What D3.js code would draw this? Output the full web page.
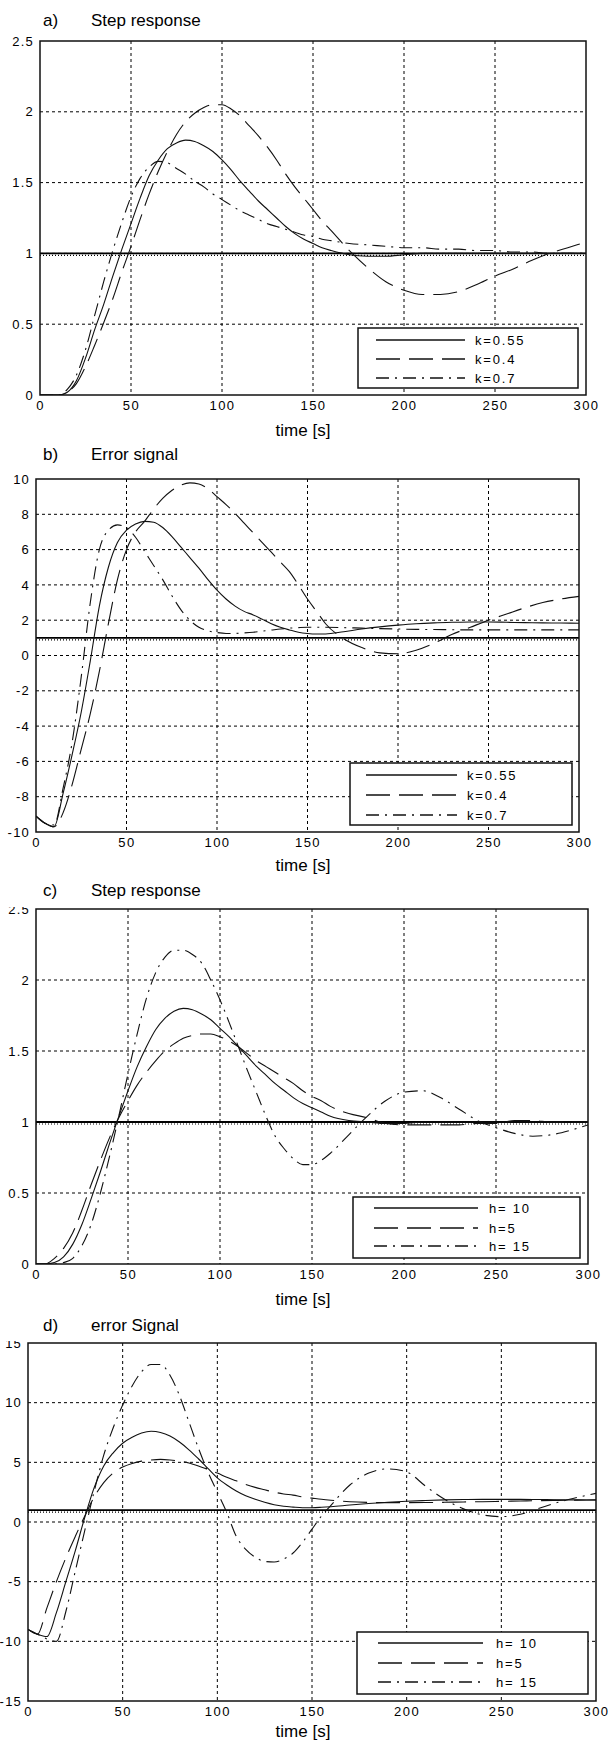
<!DOCTYPE html>
<html><head><meta charset="utf-8">
<script src="https://cdn.jsdelivr.net/npm/d3@7"></script>
<style>
html,body{margin:0;padding:0;background:#fff;}
svg{display:block;}
text{font-family:"Liberation Sans",Arial,Helvetica,sans-serif;fill:#000;}
</style></head><body>
<svg id="chart" width="608" height="1742"></svg>
<script>
// ---------- data ----------
const T = [0,5,10,15,20,25,30,35,40,45,50,55,60,65,70,75,80,85,90,95,100,105,110,115,120,125,130,135,140,145,150,155,160,170,180,190,200,210,220,230,240,250,260,270,280,290,300];

// a) Step response, gain k
const aK055 = [0,0,0,0.02,0.1,0.26,0.46,0.64,0.84,1.03,1.21,1.39,1.55,1.66,1.74,1.78,1.8,1.79,1.76,1.72,1.66,1.59,1.51,1.44,1.37,1.31,1.25,1.19,1.14,1.1,1.07,1.04,1.02,0.99,0.98,0.98,0.99,1,1,1,1,1,1,1,1,1,1];
const aK04  = [0,0,0,0.02,0.08,0.2,0.35,0.51,0.68,0.87,1.05,1.24,1.42,1.58,1.72,1.84,1.93,1.99,2.03,2.05,2.05,2.02,1.97,1.9,1.83,1.75,1.66,1.56,1.47,1.39,1.31,1.23,1.16,1.02,0.9,0.8,0.74,0.71,0.71,0.73,0.78,0.84,0.89,0.95,1.0,1.04,1.08];
const aK07  = [0,0,0,0.04,0.14,0.32,0.56,0.8,1.02,1.22,1.4,1.53,1.61,1.65,1.64,1.6,1.56,1.51,1.47,1.42,1.38,1.34,1.3,1.27,1.24,1.21,1.19,1.17,1.15,1.13,1.12,1.1,1.09,1.07,1.06,1.05,1.04,1.04,1.03,1.03,1.02,1.02,1.01,1.01,1.0,1.0,1.0];

// b) Error signal, gain k
const bK055 = [-9.1,-9.5,-9.7,-7.8,-5.6,-3.2,-0.3,2.8,5.0,6.4,7.1,7.45,7.6,7.55,7.25,6.75,6.15,5.55,4.95,4.3,3.7,3.2,2.8,2.5,2.3,2.05,1.8,1.6,1.45,1.32,1.25,1.22,1.22,1.35,1.5,1.62,1.72,1.8,1.85,1.88,1.9,1.9,1.88,1.86,1.85,1.84,1.83];
const bK04  = [-9.1,-9.5,-9.7,-8.9,-7.3,-5.3,-3.3,-0.9,1.8,4.3,6.0,7.0,7.6,8.3,8.9,9.35,9.65,9.78,9.72,9.45,9.0,8.55,8.05,7.5,6.95,6.4,5.85,5.3,4.75,4.0,3.2,2.5,1.8,0.95,0.45,0.15,0.1,0.3,0.7,1.2,1.6,2.0,2.35,2.7,3.0,3.2,3.35];
const bK07  = [-9.1,-9.5,-9.6,-7.5,-4.9,-1.2,3.0,6.0,7.1,7.4,7.25,6.7,5.9,5.1,4.3,3.4,2.6,2.0,1.6,1.4,1.3,1.25,1.25,1.28,1.32,1.38,1.44,1.5,1.55,1.58,1.6,1.6,1.6,1.58,1.55,1.52,1.5,1.48,1.47,1.46,1.45,1.45,1.45,1.45,1.45,1.45,1.45];

// c) Step response, horizon h
const cH10 = [0,0,0.01,0.05,0.14,0.28,0.46,0.65,0.85,1.04,1.22,1.39,1.53,1.65,1.73,1.78,1.8,1.79,1.76,1.72,1.66,1.6,1.53,1.46,1.39,1.33,1.27,1.22,1.17,1.13,1.1,1.07,1.04,1.01,1.0,0.99,0.99,1,1,1,1,1,1,1,1,1,1];
const cH5  = [0,0,0.04,0.11,0.22,0.38,0.56,0.73,0.89,1.03,1.15,1.26,1.35,1.43,1.5,1.55,1.59,1.61,1.62,1.62,1.6,1.57,1.53,1.48,1.43,1.39,1.35,1.31,1.27,1.22,1.18,1.15,1.11,1.06,1.03,0.99,0.98,0.98,0.98,0.98,0.99,0.99,1.01,1.01,1.0,1.0,1.0];
const cH15 = [0,0,0,0.01,0.04,0.13,0.28,0.5,0.76,1.04,1.34,1.62,1.87,2.05,2.16,2.21,2.21,2.18,2.12,2.0,1.86,1.7,1.53,1.36,1.2,1.04,0.9,0.81,0.74,0.7,0.7,0.73,0.78,0.91,1.04,1.15,1.21,1.22,1.17,1.09,1.01,0.96,0.92,0.9,0.91,0.94,0.98];

// d) error Signal, horizon h
const dH10 = [-9.0,-9.4,-9.6,-7.6,-5.0,-2.4,0.4,2.9,4.7,5.8,6.6,7.1,7.45,7.6,7.5,7.2,6.7,6.05,5.3,4.5,3.7,3.1,2.6,2.2,1.9,1.65,1.45,1.32,1.25,1.2,1.2,1.23,1.28,1.42,1.55,1.65,1.74,1.8,1.85,1.88,1.9,1.9,1.9,1.88,1.86,1.85,1.84];
const dH5  = [-9.0,-9.4,-7.2,-5.0,-3.0,-1.2,0.5,2.1,3.3,4.1,4.6,4.9,5.1,5.2,5.25,5.2,5.1,4.95,4.7,4.4,4.1,3.75,3.45,3.15,2.9,2.7,2.5,2.35,2.25,2.1,2.0,1.9,1.82,1.7,1.64,1.62,1.62,1.63,1.65,1.68,1.7,1.73,1.76,1.79,1.81,1.83,1.85];
const dH15 = [-9.0,-9.4,-9.8,-10.0,-7.5,-4.1,-0.7,2.6,5.6,7.9,9.8,11.4,12.6,13.2,13.2,12.3,10.6,8.4,6.2,4.2,2.5,0.8,-1.2,-2.3,-2.95,-3.3,-3.35,-3.1,-2.6,-1.7,-0.6,0.5,1.4,3.1,4.1,4.45,4.2,3.0,1.9,1.1,0.6,0.45,0.65,1.15,1.65,2.05,2.4];

const refLevel = 1;   // set-point line drawn in every panel

const xTicks = [0,50,100,150,200,250,300];
const yTicksStep = [0,0.5,1,1.5,2,2.5];
const yTicksErrB = [-10,-8,-6,-4,-2,0,2,4,6,8,10];
const yTicksErrD = [-15,-10,-5,0,5,10,15];

const panelLetters = ["a)","b)","c)","d)"];
const panelTitles = ["Step response","Error signal","Step response","error Signal"];
const legendK = ["k=0.55","k=0.4","k=0.7"];
const legendH = ["h= 10","h=5","h= 15"];
const xAxisTitle = "time [s]";

// ---------- layout / style ----------
const dashStyles = [null, "24,9", "13,6,2,6"];
const panels = [
  {series:[aK055,aK04,aK07], names:legendK, yDomain:[0,2.5], yTicks:yTicksStep,
   box:{l:40,r:586,t:41,b:395}, titleY:26, xTitleY:436, yClipTop:null,
   leg:{x0:358,x1:578,y0:328,y1:388,lx0:376,lx1:465,tx:475,rows:[340,359,378]}},
  {series:[bK055,bK04,bK07], names:legendK, yDomain:[-10,10], yTicks:yTicksErrB,
   box:{l:36,r:579,t:479,b:832}, titleY:460, xTitleY:871, yClipTop:475,
   leg:{x0:350,x1:572,y0:763,y1:825,lx0:366,lx1:457,tx:467,rows:[775,795,815]}},
  {series:[cH10,cH5,cH15], names:legendH, yDomain:[0,2.5], yTicks:yTicksStep,
   box:{l:36,r:588,t:909,b:1264}, titleY:896, xTitleY:1305, yClipTop:907,
   leg:{x0:353,x1:580,y0:1197,y1:1258,lx0:374,lx1:478,tx:489,rows:[1208,1228,1246]}},
  {series:[dH10,dH5,dH15], names:legendH, yDomain:[-15,15], yTicks:yTicksErrD,
   box:{l:28,r:596,t:1343,b:1701}, titleY:1331, xTitleY:1737, yClipTop:1341,
   leg:{x0:357,x1:588,y0:1632,y1:1694,lx0:378,lx1:483,tx:496,rows:[1643,1663,1682]}}
];

const svg = d3.select("#chart");
const defs = svg.append("defs");

panels.forEach((p, i) => {
  const B = p.box;
  const x = d3.scaleLinear().domain([0,300]).range([B.l, B.r]);
  const y = d3.scaleLinear().domain(p.yDomain).range([B.b, B.t]);
  const g = svg.append("g");

  // clip for curves
  defs.append("clipPath").attr("id","clip"+i).append("rect")
    .attr("x",B.l).attr("y",B.t).attr("width",B.r-B.l).attr("height",B.b-B.t);

  // titles
  g.append("text").attr("x",43).attr("y",p.titleY).attr("font-size",17).text(panelLetters[i]);
  g.append("text").attr("x",91).attr("y",p.titleY).attr("font-size",17).text(panelTitles[i]);

  // grid
  const grid = g.append("g").attr("stroke","#000").attr("stroke-width",1).attr("stroke-dasharray","3,3").attr("fill","none");
  grid.selectAll("line.v").data(xTicks.slice(1,-1)).enter().append("line")
    .attr("x1",d=>x(d)).attr("x2",d=>x(d)).attr("y1",B.t).attr("y2",B.b);
  grid.selectAll("line.h").data(p.yTicks.slice(1,-1)).enter().append("line")
    .attr("x1",B.l).attr("x2",B.r).attr("y1",d=>y(d)).attr("y2",d=>y(d));

  // x axis tick labels
  const xa = g.append("g").attr("transform",`translate(0,${B.b})`)
    .call(d3.axisBottom(x).tickValues(xTicks).tickSize(0).tickPadding(6).tickFormat(d3.format("d")));
  xa.select(".domain").remove();
  xa.selectAll("text").attr("font-size",13).attr("letter-spacing","1.5px")
    .attr("font-family",'"Liberation Sans",Arial,sans-serif').attr("fill","#000")
    .attr("dy","0.71em");

  // y axis tick labels (wrapper holds the clip so it is in page coordinates)
  const yWrap = g.append("g");
  if (p.yClipTop !== null) {
    defs.append("clipPath").attr("id","yclip"+i).append("rect")
      .attr("x",0).attr("y",p.yClipTop).attr("width",B.l).attr("height",B.b-p.yClipTop+20);
    yWrap.attr("clip-path",`url(#yclip${i})`);
  }
  const ya = yWrap.append("g").attr("transform",`translate(${B.l},0)`)
    .call(d3.axisLeft(y).tickValues(p.yTicks).tickSize(0).tickPadding(6).tickFormat(d=>String(d).replace("−","-")));
  ya.select(".domain").remove();
  ya.selectAll("text").attr("font-size",13).attr("letter-spacing","1.2px")
    .attr("font-family",'"Liberation Sans",Arial,sans-serif').attr("fill","#000");

  // set-point reference line (solid + dotted)
  const refG = g.append("g").attr("clip-path",`url(#clip${i})`);
  refG.append("line").attr("x1",B.l).attr("x2",B.r).attr("y1",y(refLevel)).attr("y2",y(refLevel))
    .attr("stroke","#000").attr("stroke-width",1.8);
  refG.append("line").attr("x1",B.l).attr("x2",B.r).attr("y1",y(refLevel)).attr("y2",y(refLevel))
    .attr("transform","translate(0,2)")
    .attr("stroke","#000").attr("stroke-width",1.2).attr("stroke-dasharray","1,2");

  // curves
  const line = d3.line().x((d,j)=>x(T[j])).y(d=>y(d)).curve(d3.curveMonotoneX);
  const cg = g.append("g").attr("clip-path",`url(#clip${i})`);
  p.series.forEach((s, k) => {
    cg.append("path").attr("d", line(s)).attr("fill","none")
      .attr("stroke","#111").attr("stroke-width",1.1)
      .attr("stroke-dasharray", dashStyles[k]);
  });

  // frame
  g.append("rect").attr("x",B.l).attr("y",B.t).attr("width",B.r-B.l).attr("height",B.b-B.t)
    .attr("fill","none").attr("stroke","#111").attr("stroke-width",1.5);

  // legend
  const L = p.leg;
  const lg = g.append("g");
  lg.append("rect").attr("x",L.x0).attr("y",L.y0).attr("width",L.x1-L.x0).attr("height",L.y1-L.y0)
    .attr("fill","#fff").attr("stroke","#111").attr("stroke-width",1.5);
  p.names.forEach((n, k) => {
    lg.append("line").attr("x1",L.lx0).attr("x2",L.lx1).attr("y1",L.rows[k]).attr("y2",L.rows[k])
      .attr("stroke","#111").attr("stroke-width",1.3).attr("stroke-dasharray",dashStyles[k]);
    lg.append("text").attr("x",L.tx).attr("y",L.rows[k]).attr("dy","0.36em")
      .attr("font-size",13).attr("letter-spacing","1.8px").text(n);
  });

  // x axis title
  g.append("text").attr("x",303).attr("y",p.xTitleY).attr("text-anchor","middle")
    .attr("font-size",17).text(xAxisTitle);
});
</script>
</body></html>
